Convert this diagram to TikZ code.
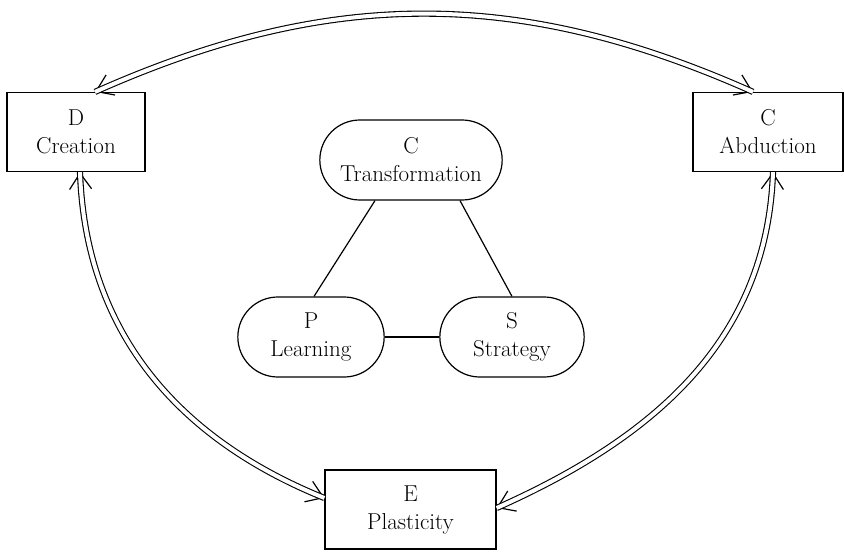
\documentclass[tikz,border=0pt]{standalone}
\usepackage{tikz}
\usetikzlibrary{shapes,arrows.meta}
\newcommand{\facultybox}[4] {\node at (#1) (#2) [rectangle, draw, line width=1.2pt, minimum width=#3, minimum height=79pt, align=center] {#4};}
\newcommand{\faclink}[5] {\draw [line width=1.2pt, {Straight Barb[length=16pt, width=22pt]}-{Straight Barb[length=16pt, width=22pt]}] (#1) to [out=#3, in=#4, looseness=#5] (#2);
  \draw [double, double distance=4pt, line width=1.1pt] (#1) to [out=#3, in=#4, looseness=#5] (#2);}

\begin{document}
\begin{tikzpicture}[x=1pt, y=-1pt, font=\fontsize{23}{28}\selectfont]

\useasboundingbox (0,0) rectangle (844,552);

\facultybox {76,132}{creation}{138pt}{D\\Creation};
\facultybox {768,132}{abduction}{150pt}{C\\Abduction};
\facultybox {410.5,509.5}{plasticity}{171pt}{E\\Plasticity};

\node at (411,160) (transformation) [rounded rectangle, draw, line width=1.2pt, minimum width=189pt, minimum height=80pt, align=center] {C\\Transformation};
\node at (311,337) (learning) [rounded rectangle, draw, line width=1.2pt, minimum width=153pt, minimum height=80pt, align=center] {P\\Learning};
\node at (512,337) (strategy) [rounded rectangle, draw, line width=1.2pt, minimum width=151pt, minimum height=80pt, align=center] {S\\Strategy};

\draw [line width=1.2pt] ([xshift=-36pt]transformation.south) -- ([xshift=3pt]learning.north);
\draw [line width=1.2pt] ([xshift=49pt]transformation.south) -- ([xshift=0pt]strategy.north);
\draw [line width=1.2pt] (learning.east) -- (strategy.west);

\faclink{[xshift=19pt]creation.north}{[xshift=-15pt]abduction.north}{24}{156}{1};
\faclink{[xshift=4pt]creation.south}{[yshift=11.5pt]plasticity.west}{-88}{158}{1};
\faclink{[xshift=5pt]abduction.south}{[yshift=1.5pt]plasticity.east}{-92}{24}{1};

\end{tikzpicture}
\end{document}
